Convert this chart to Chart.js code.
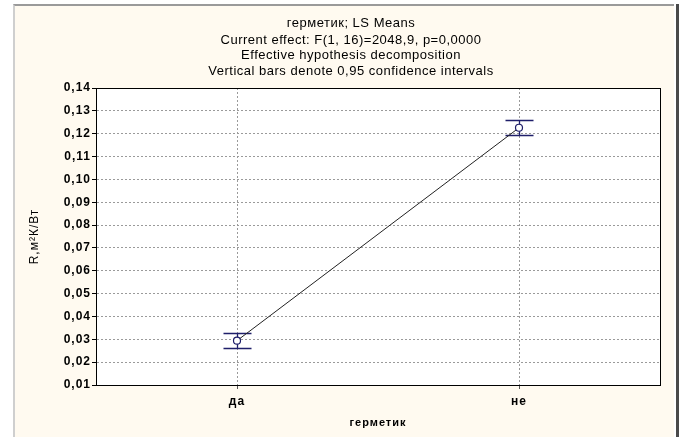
<!DOCTYPE html>
<html><head><meta charset="utf-8">
<script src="https://cdn.jsdelivr.net/npm/chart.js@4/dist/chart.umd.min.js"></script>
<style>
html,body{margin:0;padding:0;background:#fff;width:684px;height:437px;overflow:hidden}
#frame{position:absolute;left:13px;top:4px;width:659px;height:440px;background:#fffaf0;border-top:2px solid #9a9a9a;border-left:2px solid #cfcfcf}
#rbar{position:absolute;left:676px;top:4px;width:3px;height:440px;background:#4a4a4a}
#wrap{position:absolute;left:0;top:0;width:684px;height:437px}
</style></head><body>
<div id="frame"></div><div id="rbar"></div>
<div id="wrap"><canvas id="c" width="684" height="437"></canvas></div>
<script>
const categories = ['да', 'не'];
const means = [0.0294, 0.1226];
const ciLow = [0.0262, 0.1194];
const ciHigh = [0.0326, 0.1258];
const titleLines = [
  'герметик; LS Means',
  'Current effect: F(1, 16)=2048,9, p=0,0000',
  'Effective hypothesis decomposition',
  'Vertical bars denote 0,95 confidence intervals'
];
const yTitle = 'R,м²К/Вт';
const xTitle = 'герметик';

const FONT = 'Arial, "Liberation Sans", sans-serif';

const framePlugin = {
  id: 'framePlugin',
  beforeDraw(chart) {
    const {ctx, chartArea: a} = chart;
    ctx.save();
    ctx.fillStyle = '#ffffff';
    ctx.fillRect(a.left, a.top, a.right - a.left, a.bottom - a.top);
    ctx.restore();
    if ('letterSpacing' in ctx) ctx.letterSpacing = '1px';
  },
  beforeDatasetsDraw(chart) {
    const {ctx} = chart;
    const meta = chart.getDatasetMeta(0);
    const y = chart.scales.y;
    ctx.save();
    ctx.strokeStyle = '#1f1f6a';
    ctx.lineWidth = 1.3;
    meta.data.forEach((pt, i) => {
      const x = Math.round(pt.x) + 0.5;
      const yl = Math.round(y.getPixelForValue(ciLow[i])) + 0.5;
      const yh = Math.round(y.getPixelForValue(ciHigh[i])) + 0.5;
      ctx.beginPath();
      ctx.moveTo(x, yl); ctx.lineTo(x, yh);
      ctx.moveTo(x - 14, yl); ctx.lineTo(x + 14, yl);
      ctx.moveTo(x - 14, yh); ctx.lineTo(x + 14, yh);
      ctx.stroke();
    });
    ctx.restore();
  },
  afterDraw(chart) {
    const {ctx, chartArea: a} = chart;
    ctx.save();
    ctx.strokeStyle = '#000';
    ctx.lineWidth = 1;
    ctx.strokeRect(Math.round(a.left) + 0.5, Math.round(a.top) + 0.5, Math.round(a.right - a.left), Math.round(a.bottom - a.top));
    // title
    if ('letterSpacing' in ctx) ctx.letterSpacing = '0.5px';
    ctx.fillStyle = '#000';
    ctx.font = '13px ' + FONT;
    ctx.textAlign = 'center';
    ctx.textBaseline = 'middle';
    const ys = [23, 40, 55, 71];
    titleLines.forEach((t, i) => ctx.fillText(t, 351, ys[i]));
    ctx.restore();
  }
};

new Chart(document.getElementById('c'), {
  type: 'line',
  data: {
    labels: categories,
    datasets: [{
      data: means,
      borderColor: '#222',
      borderWidth: 1,
      pointRadius: 3.5,
      pointBackgroundColor: '#ffffff',
      pointBorderColor: '#1f1f6a',
      pointBorderWidth: 1.2,
      tension: 0
    }]
  },
  options: {
    responsive: false,
    animation: false,
    devicePixelRatio: 1,
    layout: {padding: {left: 16, right: 24, top: 88, bottom: 0}},
    plugins: {legend: {display: false}, title: {display: false}, tooltip: {enabled: false}},
    scales: {
      x: {
        type: 'category',
        offset: true,
        afterFit: s => { s.height = 52; },
        grid: {offset: false, color: '#9a9a9a', tickLength: 4, tickColor: '#555', drawOnChartArea: true},
        border: {display: true, color: '#000', dash: [2, 2]},
        ticks: {color: '#000', font: {family: FONT, size: 12, weight: 'bold'}, padding: 5},
        title: {display: true, text: xTitle, color: '#000', font: {family: FONT, size: 11, weight: 'bold'}, padding: {top: 0, bottom: 7}}
      },
      y: {
        min: 0.01,
        max: 0.14,
        afterFit: s => { s.width = 80; },
        grid: {color: '#9a9a9a', tickLength: 4, tickColor: '#000'},
        border: {display: true, color: '#000', dash: [2, 2]},
        ticks: {
          stepSize: 0.01,
          color: '#000',
          padding: 1,
          font: {family: FONT, size: 12, weight: 'bold'},
          callback: v => v.toFixed(2).replace('.', ',')
        },
        title: {display: true, text: yTitle, color: '#000', font: {family: FONT, size: 12}, padding: {top: 11, bottom: 0}}
      }
    }
  },
  plugins: [framePlugin]
});
</script>
</body></html>
